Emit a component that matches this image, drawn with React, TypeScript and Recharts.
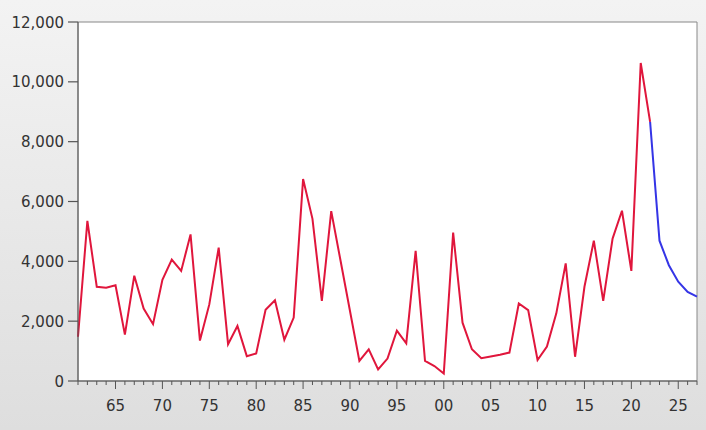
import React from "react";
import { LineChart, Line, XAxis, YAxis, ReferenceArea } from "recharts";

const years = [
  1961, 1962, 1963, 1964, 1965, 1966, 1967, 1968, 1969, 1970,
  1971, 1972, 1973, 1974, 1975, 1976, 1977, 1978, 1979, 1980,
  1981, 1982, 1983, 1984, 1985, 1986, 1987, 1988, 1989, 1990,
  1991, 1992, 1993, 1994, 1995, 1996, 1997, 1998, 1999, 2000,
  2001, 2002, 2003, 2004, 2005, 2006, 2007, 2008, 2009, 2010,
  2011, 2012, 2013, 2014, 2015, 2016, 2017, 2018, 2019, 2020,
  2021, 2022, 2023, 2024, 2025, 2026, 2027,
];

// 1961–2022
const actual = [
  1480, 5350, 3150, 3120, 3200, 1550, 3520, 2420, 1900, 3380,
  4060, 3680, 4900, 1350, 2560, 4460, 1230, 1840, 830, 920,
  2380, 2700, 1380, 2120, 6750, 5420, 2680, 5680, 4010, 2340,
  670, 1060, 390, 750, 1680, 1260, 4350, 670, 500, 250,
  4960, 1950, 1060, 760, 820, 880, 950, 2590, 2370, 700,
  1150, 2260, 3930, 810, 3150, 4690, 2680, 4760, 5690, 3680,
  10630, 8660,
];

// 2022–2027
const forecastStart = 2022;
const forecast = [8660, 4690, 3870, 3320, 2980, 2820];

const yTicks = [0, 2000, 4000, 6000, 8000, 10000, 12000];

const data = years.map((y, i) => ({
  year: y,
  actual: i < actual.length ? actual[i] : null,
  forecast: y >= forecastStart ? forecast[y - forecastStart] : null,
}));

const FONT = "DejaVu Sans, sans-serif";

const XTick = (props: any) => {
  const { x, y, payload } = props;
  const v = payload.value as number;
  const major = v % 5 === 0;
  return (
    <g>
      <line x1={x} x2={x} y1={y} y2={y + (major ? 8 : 4)} stroke="#555" strokeWidth={1} />
      {major && (
        <text x={x} y={y + 30} textAnchor="middle" fontSize={15} fill="#333" fontFamily={FONT}>
          {String(v % 100).padStart(2, "0")}
        </text>
      )}
    </g>
  );
};

const YTick = (props: any) => {
  const { x, y, payload } = props;
  return (
    <g>
      <path d={`M${x + 4},${y}H${x + 14}`} stroke="#555" strokeWidth={1.2} fill="none" />
      <text x={x} y={y + 5.5} textAnchor="end" fontSize={15} fill="#333" fontFamily={FONT}>
        {(payload.value as number).toLocaleString("en-US")}
      </text>
    </g>
  );
};

export default function App() {
  return (
    <div
      style={{
        position: "absolute",
        left: 0,
        top: 0,
        width: 706,
        height: 430,
        background: "linear-gradient(#f3f3f3, #dedede)",
      }}
    >
      <LineChart
        width={706}
        height={430}
        data={data}
        margin={{ top: 22, right: 9, bottom: 19, left: 8 }}
      >
        <ReferenceArea
          x1={1961}
          x2={2027}
          y1={0}
          y2={12000}
          fill="#ffffff"
          fillOpacity={1}
          stroke="#888"
          strokeWidth={1}
          ifOverflow="visible"
        />
        <XAxis
          dataKey="year"
          type="number"
          domain={[1961, 2027]}
          ticks={years}
          interval={0}
          tick={<XTick />}
          tickLine={false}
          tickSize={0}
          tickMargin={0}
          axisLine={{ stroke: "#555" }}
          height={30}
        />
        <YAxis
          type="number"
          domain={[0, 12000]}
          ticks={yTicks}
          tick={<YTick />}
          tickLine={false}
          tickSize={9}
          tickMargin={5}
          axisLine={{ stroke: "#555" }}
          width={70}
        />
        <Line
          type="linear"
          dataKey="actual"
          stroke="#e0163c"
          strokeWidth={2}
          dot={false}
          isAnimationActive={false}
          connectNulls={false}
        />
        <Line
          type="linear"
          dataKey="forecast"
          stroke="#3535e6"
          strokeWidth={2}
          dot={false}
          isAnimationActive={false}
          connectNulls={false}
        />
      </LineChart>
    </div>
  );
}
